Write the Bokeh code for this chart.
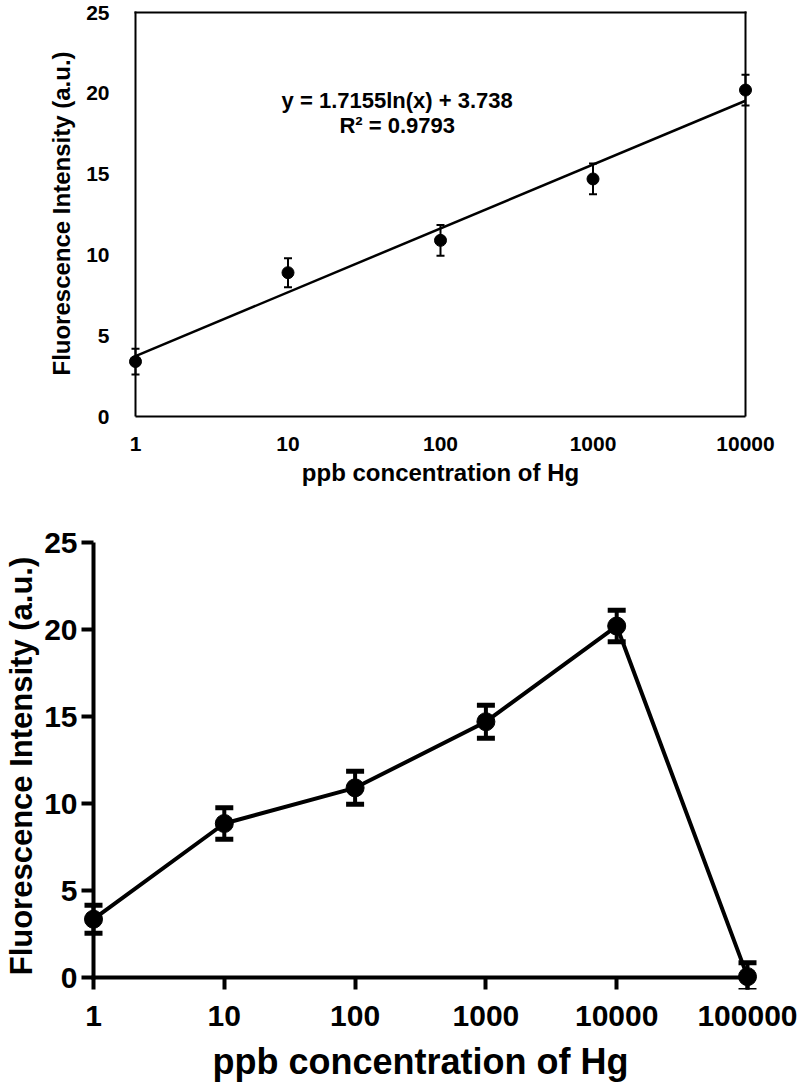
import numpy as np
from bokeh.plotting import figure
from bokeh.models import Range1d, FixedTicker, Label
from bokeh.embed import file_html
from bokeh.resources import INLINE

# ---------------- data ----------------
conc_top = [1, 10, 100, 1000, 10000]
intensity_top = [3.4, 8.9, 10.9, 14.7, 20.2]
error_top = [0.8, 0.9, 0.95, 0.95, 0.95]

conc_bottom = [1, 10, 100, 1000, 10000, 100000]
intensity_bottom = [3.35, 8.85, 10.9, 14.7, 20.2, 0.05]
error_bottom = [0.8, 0.9, 0.95, 0.95, 0.9, 0.8]

fit_slope = 1.7155
fit_intercept = 3.738
fit_equation = "y = 1.7155ln(x) + 3.738"
fit_r2 = "R\u00b2 = 0.9793"

x_ticks_top = [1, 10, 100, 1000, 10000]
x_labels_top = ["1", "10", "100", "1000", "10000"]
x_ticks_bottom = [1, 10, 100, 1000, 10000, 100000]
x_labels_bottom = ["1", "10", "100", "1000", "10000", "100000"]
y_ticks = [0, 5, 10, 15, 20, 25]
x_title = "ppb concentration of Hg"
y_title = "Fluorescence Intensity (a.u.)"

FONT = "Liberation Sans"
W = 800


def log_range(lo, hi, frame_px, pad_lo, pad_hi):
    span = np.log10(hi) - np.log10(lo)
    dpp = span / (frame_px - pad_lo - pad_hi)
    return Range1d(10 ** (np.log10(lo) - pad_lo * dpp), 10 ** (np.log10(hi) + pad_hi * dpp))


def lin_range(lo, hi, frame_px, pad_lo, pad_hi):
    upp = (hi - lo) / (frame_px - pad_lo - pad_hi)
    return Range1d(lo - pad_lo * upp, hi + pad_hi * upp)


def style_axes(p, tick_font, label_font):
    for ax in (p.xaxis[0], p.yaxis[0]):
        ax.major_label_text_font = FONT
        ax.major_label_text_font_style = "bold"
        ax.major_label_text_font_size = tick_font
        ax.major_label_text_color = "black"
        ax.axis_label_text_font = FONT
        ax.axis_label_text_font_style = "bold"
        ax.axis_label_text_font_size = label_font
        ax.axis_label_text_color = "black"
        ax.minor_tick_line_color = None


# ---------------- top panel ----------------
H1 = 508
L1, R1, T1, B1 = 123, 43, 10, 92
fw1, fh1 = W - L1 - R1, H1 - T1 - B1
p1 = figure(width=W, height=H1, x_axis_type="log",
            x_range=log_range(x_ticks_top[0], x_ticks_top[-1], fw1, 12, 12),
            y_range=lin_range(y_ticks[0], y_ticks[-1], fh1, 0, 2),
            min_border_left=L1, min_border_right=R1, min_border_top=T1, min_border_bottom=B1,
            output_backend="svg", toolbar_location=None, outline_line_color=None)
p1.grid.visible = False
style_axes(p1, "21px", "24px")
p1.xaxis.ticker = FixedTicker(ticks=x_ticks_top)
p1.xaxis.major_label_overrides = {t: s for t, s in zip(x_ticks_top, x_labels_top)}
p1.xaxis.bounds = (x_ticks_top[0], x_ticks_top[-1])
p1.xaxis.axis_line_width = 2
p1.xaxis.axis_line_color = "black"
p1.xaxis.major_tick_line_color = None
p1.xaxis.major_label_standoff = 14
p1.xaxis.axis_label = x_title
p1.xaxis.axis_label_standoff = 5
p1.yaxis.ticker = FixedTicker(ticks=y_ticks)
p1.yaxis.axis_line_color = None
p1.yaxis.major_tick_line_color = None
p1.yaxis.major_label_standoff = 8
p1.yaxis.axis_label = y_title
p1.yaxis.axis_label_standoff = 8

# box (left, right, top edges)
p1.segment(x0=[x_ticks_top[0], x_ticks_top[-1], x_ticks_top[0]],
           y0=[y_ticks[0], y_ticks[0], y_ticks[-1]],
           x1=[x_ticks_top[0], x_ticks_top[-1], x_ticks_top[-1]],
           y1=[y_ticks[-1], y_ticks[-1], y_ticks[-1]],
           line_color="black", line_width=2, line_cap="square")

# fit line
fit_x = [conc_top[0], conc_top[-1]]
fit_y = [fit_slope * np.log(x) + fit_intercept for x in fit_x]
p1.line(fit_x, fit_y, line_color="black", line_width=2.5)

# error bars and points
lo1 = [v - e for v, e in zip(intensity_top, error_top)]
hi1 = [v + e for v, e in zip(intensity_top, error_top)]
p1.segment(x0=conc_top, y0=lo1, x1=conc_top, y1=hi1, line_color="black", line_width=2)
p1.scatter(conc_top + conc_top, lo1 + hi1, marker="dash", size=8, line_width=2, line_color="black")
p1.scatter(conc_top, intensity_top, size=12, fill_color="black", line_color="black")

eq_x = 52
p1.add_layout(Label(x=eq_x, y=19.53, text=fit_equation, text_align="center", text_baseline="middle",
                    text_font=FONT, text_font_style="bold", text_font_size="22px", text_color="black"))
p1.add_layout(Label(x=eq_x, y=18.0, text=fit_r2, text_align="center", text_baseline="middle",
                    text_font=FONT, text_font_style="bold", text_font_size="22px", text_color="black"))

# ---------------- bottom panel ----------------
H2 = 576
L2, R2, T2, B2 = 81, 41, 34, 95
fw2, fh2 = W - L2 - R2, H2 - T2 - B2
TICK = 12
p2 = figure(width=W, height=H2, x_axis_type="log",
            x_range=log_range(x_ticks_bottom[0], x_ticks_bottom[-1], fw2, TICK, 12),
            y_range=lin_range(y_ticks[0], y_ticks[-1], fh2, TICK, 0),
            min_border_left=L2, min_border_right=R2, min_border_top=T2, min_border_bottom=B2,
            output_backend="svg", toolbar_location=None, outline_line_color=None)
p2.grid.visible = False
style_axes(p2, "30px", "36px")
p2.xaxis.ticker = FixedTicker(ticks=x_ticks_bottom)
p2.xaxis.major_label_overrides = {t: s for t, s in zip(x_ticks_bottom, x_labels_bottom)}
p2.yaxis.ticker = FixedTicker(ticks=y_ticks)
for ax in (p2.xaxis[0], p2.yaxis[0]):
    ax.axis_line_color = None
    ax.major_tick_line_color = "black"
    ax.major_tick_line_width = 4
    ax.major_tick_in = TICK
    ax.major_tick_out = 0
p2.xaxis.major_label_standoff = 16
p2.xaxis.axis_label = x_title
p2.xaxis.axis_label_standoff = 12
p2.yaxis.major_label_standoff = 4
p2.yaxis.axis_label = y_title
p2.yaxis.axis_label_text_font_size = "31px"
p2.yaxis.axis_label_standoff = 2

# axis lines at x=1 and y=0
p2.segment(x0=[x_ticks_bottom[0], x_ticks_bottom[0]], y0=[y_ticks[0], y_ticks[0]],
           x1=[x_ticks_bottom[0], x_ticks_bottom[-1]], y1=[y_ticks[-1], y_ticks[0]],
           line_color="black", line_width=4, line_cap="square")

p2.line(conc_bottom, intensity_bottom, line_color="black", line_width=4)
lo2 = [v - e for v, e in zip(intensity_bottom, error_bottom)]
hi2 = [v + e for v, e in zip(intensity_bottom, error_bottom)]
p2.segment(x0=conc_bottom, y0=lo2, x1=conc_bottom, y1=hi2, line_color="black", line_width=4)
p2.scatter(conc_bottom + conc_bottom, lo2 + hi2, marker="dash", size=18, line_width=5, line_color="black")
p2.scatter(conc_bottom, intensity_bottom, size=18, fill_color="black", line_color="black")

open("out.html", "w").write(file_html([p1, p2], INLINE))
